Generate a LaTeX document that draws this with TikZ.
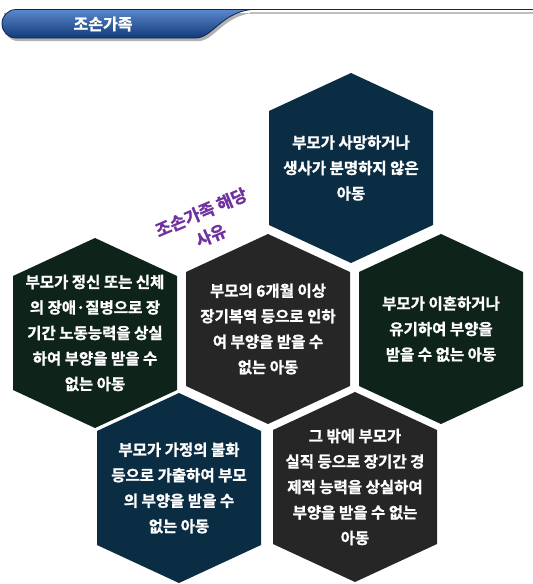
\documentclass[tikz,border=0pt]{standalone}
\usepackage{fontspec}
\setmainfont{Noto Sans CJK KR}[BoldFont={Noto Sans CJK KR Bold}, BoldFeatures={FakeBold=1.2}]
\usepackage{xcolor}
\usepackage{tikz}
\usetikzlibrary{positioning,backgrounds}
\definecolor{hexnavy}{RGB}{11,45,68}
\definecolor{hexgreen}{RGB}{14,35,26}
\definecolor{hexgray}{RGB}{38,38,38}
\definecolor{reasonpurple}{RGB}{112,48,160}
\definecolor{bannertop}{RGB}{90,136,204}
\definecolor{bannerbot}{RGB}{18,58,120}
\definecolor{bannerdark}{RGB}{14,38,82}

\begin{document}
\begin{tikzpicture}[
  x=1pt, y=-1pt,
  cell/.style={text=white, align=center, inner sep=0pt,
               font=\bfseries\fontsize{15.5}{25.5}\selectfont},
  reason/.style={text=reasonpurple, align=center, inner sep=0pt,
                 font=\bfseries\fontsize{17}{25}\selectfont},
  title/.style={text=white, inner sep=0pt, font=\bfseries\fontsize{16}{18}\selectfont},
  banner/.style={top color=bannertop, bottom color=bannerbot, draw=bannerdark, line width=0.8pt}]
  \useasboundingbox (0,0) rectangle (533,584);
  \fill[black!30] (4,13) [rounded corners=14pt] -- (4,41) -- (60,41) [sharp corners] -- (199,41)
    .. controls (214,41) and (224,15) .. (254,13) -- cycle;
  \draw[black!25, line width=2pt] (250,12.5) -- (533,12.5);
  \path[banner] (252,9.5) [rounded corners=14pt] -- (2,9.5) -- (2,38) -- (60,38) [sharp corners]
    -- (196,38) .. controls (212,38) and (222,12) .. (252,9.5) -- cycle;
  \draw[bannerdark, line width=1.5pt] (248,9.5) -- (533,9.5);
  \node[title] (title) at (103,24) {조손가족};
  \node[cell] (prison) at (268,329) {부모의 6개월 이상\\장기복역 등으로 인하\\여 부양을 받을 수\\없는 아동};
  \node[cell, on grid, left=173pt of prison, yshift=-4pt] (disabled) {부모가 정신 또는 신체\\의 장애·질병으로 장\\기간 노동능력을 상실\\하여 부양을 받을 수\\없는 아동};
  \node[cell, on grid, right=173pt of prison] (divorce) {부모가 이혼하거나\\유기하여 부양을\\받을 수 없는 아동};
  \node[cell, on grid, above=161pt of prison, xshift=83pt] (deceased) {부모가 사망하거나\\생사가 분명하지 않은\\아동};
  \node[cell, on grid, below=159pt of prison, xshift=-89pt] (runaway) {부모가 가정의 불화\\등으로 가출하여 부모\\의 부양을 받을 수\\없는 아동};
  \node[cell, on grid, below=158pt of prison, xshift=87pt] (jobless) {그 밖에 부모가\\실직 등으로 장기간 경\\제적 능력을 상실하여\\부양을 받을 수 없는\\아동};
  \node[reason, rotate=23] (why) at (206,224) {조손가족 해당\\사유};
  \begin{scope}[on background layer]
    \foreach \n/\c in {deceased/hexnavy, disabled/hexgreen, prison/hexgray,
                       divorce/hexgreen, runaway/hexnavy, jobless/hexgray}
      \fill[\c] ([shift={(0,-95)}]\n.center) -- ([shift={(82,-57)}]\n.center)
        -- ([shift={(82,57)}]\n.center) -- ([shift={(0,95)}]\n.center)
        -- ([shift={(-82,57)}]\n.center) -- ([shift={(-82,-57)}]\n.center) -- cycle;
  \end{scope}
\end{tikzpicture}
\end{document}
